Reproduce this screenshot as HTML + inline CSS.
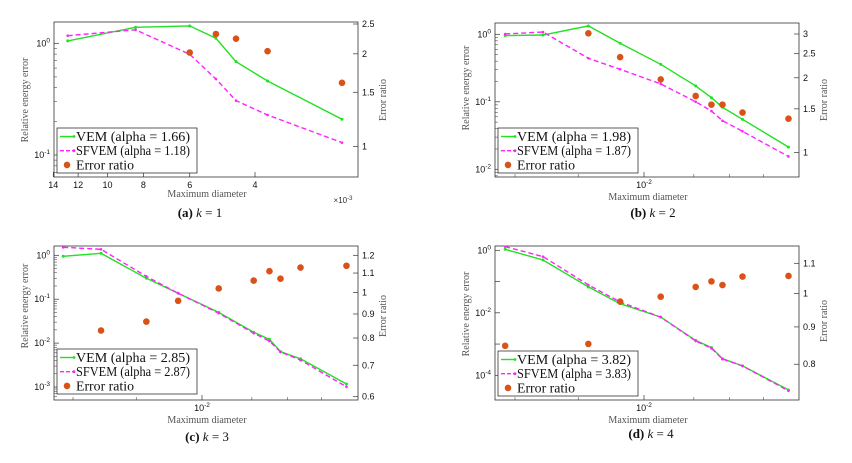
<!DOCTYPE html>
<html><head><meta charset="utf-8">
<style>
body{margin:0;background:#fff;width:852px;height:463px;overflow:hidden}
svg{display:block}
</style></head>
<body>
<svg id="fig" width="852" height="463" xmlns="http://www.w3.org/2000/svg"></svg>
<script>
// ---- data (diameters in units of 1e-3) ----
const diamA = [12.8, 8.4, 6.0, 5.1, 4.5, 3.7, 2.33];
const vemA = [1.05, 1.39, 1.43, 1.11, 0.685, 0.46, 0.209];
const sfvemA = [1.17, 1.32, 0.797, 0.479, 0.307, 0.228, 0.129];
const ratioA = [null, null, 2.02, 2.32, 2.24, 2.04, 1.61];

const diamBCD = [31.8, 23.2, 15.9, 12.2, 8.7, 6.5, 5.7, 5.2, 4.4, 3.0];
const vemB = [0.955, 0.977, 1.33, 0.736, 0.359, 0.172, 0.115, 0.083, 0.055, 0.0213];
const sfvemB = [1.01, 1.08, 0.441, 0.303, 0.184, 0.100, 0.0728, 0.0524, 0.0366, 0.0155];
const ratioB = [null, null, 3.02, 2.42, 1.97, 1.69, 1.56, 1.56, 1.45, 1.37];

const vemC = [0.95, 1.11, 0.30, 0.137, 0.050, 0.0177, 0.0122, 0.0064, 0.0044, 0.00117];
const sfvemC = [1.52, 1.37, 0.33, 0.137, 0.048, 0.0168, 0.0111, 0.0063, 0.0041, 0.00101];
const ratioC = [null, 0.83, 0.867, 0.96, 1.02, 1.06, 1.11, 1.07, 1.13, 1.14];

const vemD = [1.08, 0.49, 0.0672, 0.0196, 0.0073, 0.00131, 0.00077, 0.00034, 0.00020, 0.000034];
const sfvemD = [1.31, 0.627, 0.078, 0.0222, 0.0073, 0.00125, 0.00073, 0.00033, 0.00020, 0.000032];
const ratioD = [0.848, null, 0.853, 0.975, 0.990, 1.021, 1.039, 1.027, 1.055, 1.057];

const alphaLabels = [["1.66","1.18"],["1.98","1.87"],["2.85","2.87"],["3.82","3.83"]];
const rightTicksA = [1, 1.5, 2, 2.5];
const rightTicksB = [1, 1.5, 2, 2.5, 3];
const rightTicksC = [0.6, 0.7, 0.8, 0.9, 1, 1.1, 1.2];
const rightTicksD = [0.8, 0.9, 1, 1.1];
const leftExpA = [0, -1];
const leftExpB = [0, -1, -2];
const leftExpC = [0, -1, -2, -3];
const leftExpD = [0, -2, -4];
const xTicksA = [14, 12, 10, 8, 6, 4];
const xMinorBCD = [29.3, 17.3, 6.6, 4.9, 3.7];

const NS = "http://www.w3.org/2000/svg";
const fig = document.getElementById('fig');
const SANS = 'font-family:"Liberation Sans",sans-serif';
const SERIF = 'font-family:"Liberation Serif",serif';
function mk(tag, attrs, parent){
  const e = document.createElementNS(NS, tag);
  for (const k in attrs) e.setAttribute(k, attrs[k]);
  (parent||fig).appendChild(e);
  return e;
}

const panels = [
 {id:'a', ox:0, oy:0, box:[54,22,358,177], xref:4, xpx:255, xk:161, y0:43.3, dec:111.7, rref:2.5, rpx:24, rk:133.7,
  diam:diamA, vem:vemA, sf:sfvemA, ratio:ratioA, rt:rightTicksA, le:leftExpA, minorDec:true, leg:[57,128],
  cap:['(a)','1',200,217], xt:[207,197], yl:[25,100], yr:[383,100]},
 {id:'b', ox:426, oy:0, box:[69,23,373,177], xref:10, xpx:218, xk:120, y0:34.3, dec:67.5, rref:3, rpx:34, rk:108,
  diam:diamBCD, vem:vemB, sf:sfvemB, ratio:ratioB, rt:rightTicksB, le:leftExpB, minorDec:true, leg:[72,128],
  cap:['(b)','2',227,217], xt:[222,200], yl:[40,88], yr:[398,100], x10y:188},
 {id:'c', ox:0, oy:231, box:[54,15,358,169], xref:10, xpx:202, xk:120, y0:24.3, dec:43.9, rref:1.2, rpx:24.3, rk:204,
  diam:diamBCD, vem:vemC, sf:sfvemC, ratio:ratioC, rt:rightTicksC, le:leftExpC, minorDec:true, leg:[57,118],
  cap:['(c)','3',207,210], xt:[207,192], yl:[25,75], yr:[383,85], x10y:180},
 {id:'d', ox:426, oy:231, box:[69,15,373,169], xref:10, xpx:218, xk:120, y0:19.3, dec:31.25, rref:1.1, rpx:32.3, rk:317,
  diam:diamBCD, vem:vemD, sf:sfvemD, ratio:ratioD, rt:rightTicksD, le:leftExpD, minorDec:false, leg:[72,120],
  cap:['(d)','4',225,207], xt:[222,192], yl:[40,83], yr:[398,90], x10y:180}
];

panels.forEach((p, pi) => {
  const g = mk('g', {transform:`translate(${p.ox},${p.oy})`});
  
  
  const [L,T,R,B] = p.box;
  const X = d => p.xpx - Math.log(d / p.xref) * p.xk;
  const Y = v => p.y0 - Math.log10(v) * p.dec;
  const YR = v => p.rpx + Math.log(p.rref / v) * p.rk;

  const frame = mk('rect', {x:L, y:T, width:R-L, height:B-T, fill:'#fff', stroke:'#333', 'stroke-width':0.8}, g);
  
  

  const lo = Math.floor(-(B - p.y0) / p.dec) - 1, hi = Math.ceil((p.y0 - T) / p.dec) + 1;
  for (let e = lo; e <= hi; e++) {
    const yy = Y(Math.pow(10, e));
    if (yy >= T && yy <= B) mk('line', {x1:L, x2:L+5, y1:yy, y2:yy, stroke:'#333', 'stroke-width':0.7}, g);
    if (p.minorDec) for (let m = 2; m < 10; m++) {
      const ym = Y(m * Math.pow(10, e));
      if (ym > T && ym < B) mk('line', {x1:L, x2:L+3, y1:ym, y2:ym, stroke:'#333', 'stroke-width':0.5}, g);
    }
  }
  p.le.forEach(e => {
    const yy = Y(Math.pow(10, e));
    const t = mk('text', {x:L-4, y:yy+3, 'text-anchor':'end', 'font-size':9, fill:'#111', style:SANS}, g);
    
    
    t.textContent = '10';
    const s = mk('tspan', {dy:-4, 'font-size':6.5}, t); s.textContent = String(e);
  });
  p.rt.forEach(v => {
    const yy = YR(v);
    mk('line', {x1:R-5, x2:R, y1:yy, y2:yy, stroke:'#333', 'stroke-width':0.7}, g);
    const t = mk('text', {x:R+4, y:yy+3, 'font-size':9, fill:'#111', style:SANS}, g);
    
    
    t.textContent = String(v);
  });
  if (p.id === 'a') {
    xTicksA.forEach(v => {
      const xx = X(v);
      mk('line', {x1:xx, x2:xx, y1:B, y2:B-5, stroke:'#333', 'stroke-width':0.7}, g);
      const t = mk('text', {x:xx, y:B+11, 'text-anchor':'middle', 'font-size':9, fill:'#111', style:SANS}, g);
      
      
      t.textContent = String(v);
    });
    const t = mk('text', {x:343, y:203, 'text-anchor':'middle', 'font-size':8, fill:'#333', style:SANS}, g);
    
    
    t.textContent = '×10';
    const s = mk('tspan', {dy:-3, 'font-size':6}, t); s.textContent = '-3';
  } else {
    const xx = X(10);
    mk('line', {x1:xx, x2:xx, y1:B, y2:B-5, stroke:'#333', 'stroke-width':0.7}, g);
    xMinorBCD.forEach(v => { const xm = X(v); mk('line', {x1:xm, x2:xm, y1:B, y2:B-3, stroke:'#333', 'stroke-width':0.5}, g); });
    const t = mk('text', {x:xx, y:p.x10y, 'text-anchor':'middle', 'font-size':9, fill:'#111', style:SANS}, g);
    
    
    t.textContent = '10';
    const s = mk('tspan', {dy:-4, 'font-size':6.5}, t); s.textContent = '-2';
  }
  const ptsV = p.diam.map((d, i) => X(d).toFixed(1) + ',' + Y(p.vem[i]).toFixed(1)).join(' ');
  const ptsS = p.diam.map((d, i) => X(d).toFixed(1) + ',' + Y(p.sf[i]).toFixed(1)).join(' ');
  const lv = mk('polyline', {points:ptsV, fill:'none', stroke:'#22e022', 'stroke-width':1.4}, g);
  
  
  const ls = mk('polyline', {points:ptsS, fill:'none', stroke:'#ff22ff', 'stroke-width':1.4, 'stroke-dasharray':'5,3'}, g);
  
  
  p.diam.forEach((d, i) => {
    const m1 = mk('circle', {cx:X(d), cy:Y(p.vem[i]), r:1.5, fill:'#22e022'}, g);
    
    
    const m2 = mk('circle', {cx:X(d), cy:Y(p.sf[i]), r:1.3, fill:'#ff22ff'}, g);
    
    
    if (p.ratio[i] != null) {
      const c = mk('circle', {cx:X(d), cy:YR(p.ratio[i]), r:3.3, fill:'#d95319'}, g);
      
      
    }
  });
  const [lx, ly] = p.leg;
  const lg = mk('g', {}, g);
  
  
  mk('rect', {x:lx, y:ly, width:140, height:45, fill:'#fff', stroke:'#333', 'stroke-width':0.8}, lg);
  const al = alphaLabels[pi];
  const rows = [['VEM (alpha = ' + al[0] + ')', '#22e022', false], ['SFVEM (alpha = ' + al[1] + ')', '#ff22ff', true], ['Error ratio', '#d95319', null]];
  rows.forEach((r, k) => {
    const yy = ly + 8.5 + k * 14.2;
    if (r[2] === null) mk('circle', {cx:lx+10, cy:yy, r:3.3, fill:r[1]}, lg);
    else {
      mk('line', {x1:lx+3, x2:lx+17, y1:yy, y2:yy, stroke:r[1], 'stroke-width':1.4, 'stroke-dasharray': r[2] ? '4,2' : 'none'}, lg);
      mk('circle', {cx:lx+17, cy:yy, r:1.4, fill:r[1]}, lg);
    }
    const t = mk('text', {x:lx+19, y:yy+4.5, 'font-size':13.5, fill:'#111', style:SERIF, textLength: k===2 ? 58 : 114, lengthAdjust:'spacingAndGlyphs'}, lg);
    
    
    t.textContent = r[0];
  });
  const xt = mk('text', {x:p.xt[0], y:p.xt[1], 'text-anchor':'middle', 'font-size':10, fill:'#555', style:SERIF}, g);
  
  
  xt.textContent = 'Maximum diameter';
  const yl = mk('text', {x:0, y:0, 'text-anchor':'middle', 'font-size':10, fill:'#555', style:SERIF, transform:`translate(${p.yl[0]+3},${p.yl[1]}) rotate(-90)`}, g);
  
  
  yl.textContent = 'Relative energy error';
  const yr = mk('text', {x:0, y:0, 'text-anchor':'middle', 'font-size':10, fill:'#555', style:SERIF, transform:`translate(${p.yr[0]+3},${p.yr[1]}) rotate(-90)`}, g);
  
  
  yr.textContent = 'Error ratio';
  const cp = mk('text', {x:p.cap[2], y:p.cap[3], 'text-anchor':'middle', 'font-size':13, fill:'#111', style:SERIF}, g);
  
  
  const b = mk('tspan', {'font-weight':'bold'}, cp); b.textContent = p.cap[0] + ' ';
  const k = mk('tspan', {'font-style':'italic'}, cp); k.textContent = 'k';
  const rest = mk('tspan', {}, cp); rest.textContent = ' = ' + p.cap[1];
});
</script>
</body></html>
